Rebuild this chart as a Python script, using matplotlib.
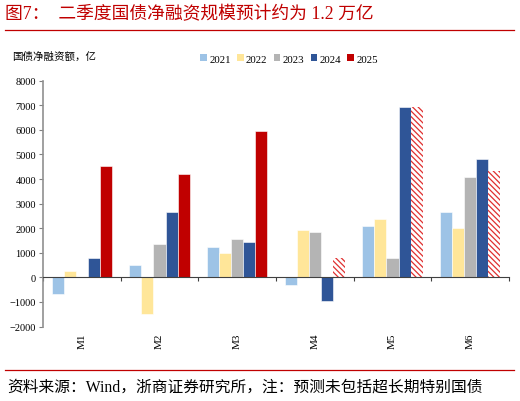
import numpy as np, matplotlib
matplotlib.use("Agg"); import matplotlib.pyplot as plt
from matplotlib.patches import Patch
from matplotlib.transforms import blended_transform_factory

plt.rcParams['font.family'] = ['Liberation Serif', 'Noto Sans CJK SC']
plt.rcParams['hatch.linewidth'] = 0.9

months = ["M1", "M2", "M3", "M4", "M5", "M6"]
years = ["2021", "2022", "2023", "2024", "2025"]
v2021 = [-680, 500, 1230, -310, 2070, 2640]
v2022 = [270, -1490, 990, 1935, 2380, 2000]
v2023 = [0, 1370, 1580, 1830, 770, 4065]
v2024 = [770, 2640, 1420, -980, 6910, 4795]
v2025 = [4540, 4190, 5960, 770, 6910, 4310]
forecast = [False, False, False, True, True, True]  # 2025 M4-M6 are forecasts
colors = ["#9DC3E6", "#FFE699", "#B4B4B4", "#2F5597", "#C00000"]
red = "#C00000"

fig = plt.figure(figsize=(5.2, 4.02), dpi=100)
ax = fig.add_axes([43/520, 74.5/402, 466/520, 245.8/402])
x = np.arange(len(months))
w = 0.155
series = [v2021, v2022, v2023, v2024, v2025]
for i, (vals, c) in enumerate(zip(series, colors)):
    pos = x + (i - 2) * w
    if i < 4:
        ax.bar(pos, vals, w, color=c, edgecolor="white", linewidth=0.4)
    else:
        for p, v, f in zip(pos, vals, forecast):
            if f:
                ax.bar(p, v, w, facecolor="white", edgecolor="#E03030", hatch="\\" * 6, linewidth=0)
            else:
                ax.bar(p, v, w, color=c, edgecolor="white", linewidth=0.4)

ax.set_xlim(-0.5, 5.5)
ax.set_ylim(-2000, 8000)
ax.set_yticks(np.arange(-2000, 8001, 1000))
ax.tick_params(axis="y", labelsize=7.5, length=3, width=0.8, color="#808080", pad=2)
for s in ["top", "right"]:
    ax.spines[s].set_visible(False)
ax.spines["left"].set_color("#909090")
ax.spines["left"].set_linewidth(1.2)
ax.spines["bottom"].set_position(("data", 0))
ax.spines["bottom"].set_color("#404040")
ax.spines["bottom"].set_linewidth(0.8)
ax.set_xticks(np.arange(-0.5, 5.6, 1))
ax.tick_params(axis="x", labelbottom=False, length=3, width=0.8, color="#404040", direction="out")
tr = blended_transform_factory(ax.transData, fig.transFigure)
for xi, m in zip(x, months):
    ax.text(xi, 1 - 341.7/402, m, rotation=90, ha="center", va="center", fontsize=8, transform=tr)

# title, rules, notes
fig.text(5/520, 1 - 15/402, "图7：  二季度国债净融资规模预计约为 1.2 万亿", color=red, fontsize=12.8, va="center", ha="left")
fig.add_artist(plt.Line2D([5/520, 514/520], [1 - 31/402] * 2, color=red, linewidth=0.9))
fig.add_artist(plt.Line2D([5/520, 514/520], [1 - 371/402] * 2, color=red, linewidth=0.9))
fig.text(7/520, 1 - 388/402, "资料来源：Wind，浙商证券研究所，注：预测未包括超长期特别国债", fontsize=11.3, va="center", ha="left")
fig.text(12/520, 1 - 57/402, "国债净融资额，亿", fontsize=7.6, va="center", ha="left")

handles = [Patch(facecolor=c, edgecolor="none") for c in colors]
fig.legend(handles, years, loc="center left", bbox_to_anchor=(195/520, 1 - 60/402), ncol=5, frameon=False,
           fontsize=7.8, handlelength=0.6, handleheight=0.6, handletextpad=0.2, columnspacing=0.6, borderpad=0)

fig.savefig("out.png", dpi=100)
